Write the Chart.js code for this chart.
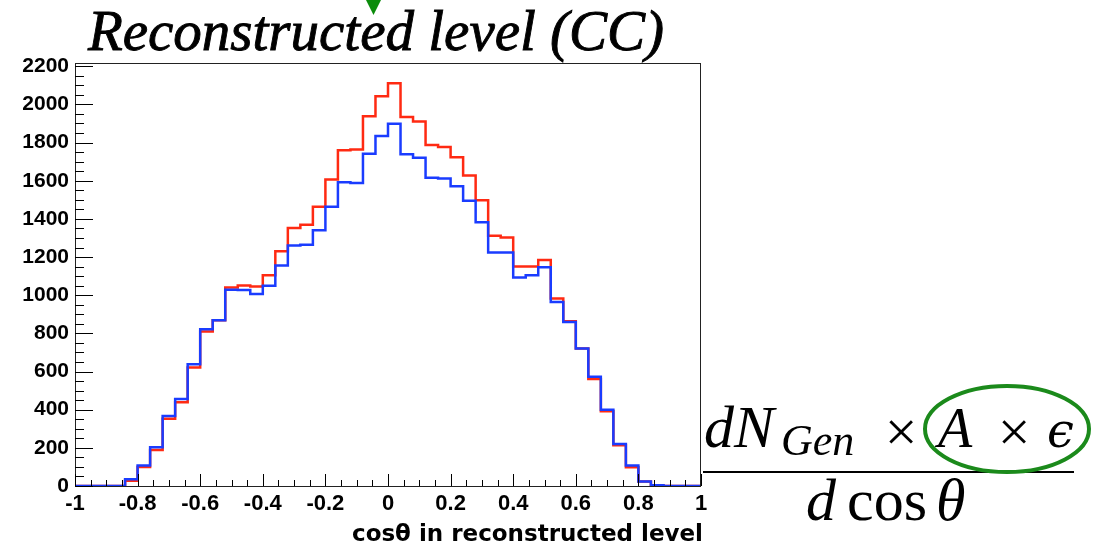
<!DOCTYPE html>
<html>
  <head>
    <title>cos theta, reconstructed level</title>
    <script src="https://cdn.jsdelivr.net/npm/chart.js@4.4.0/dist/chart.umd.min.js"></script>
    <style>
    body{
    	margin: 0;
    	background-color: white;
    }
  	</style>
  </head>
  <body>

    <canvas id="costheta" width="1093" height="544"></canvas>

  <script type="text/javascript">

  // 50 bins in cos(theta) from -1 to 1
  var binLo = -1;
  var binWidth = 0.04;

  var histRed = [0, 0, 0, 0, 28, 100, 189, 352, 439, 621,
                 810, 869, 1041, 1051, 1046, 1104, 1230, 1352, 1369, 1464,
                 1607, 1760, 1763, 1938, 2043, 2111, 1934, 1910, 1787, 1777,
                 1723, 1628, 1497, 1312, 1303, 1151, 1151, 1184, 983, 864,
                 721, 561, 392, 213, 98, 23, 4, 0, 0, 0];

  var histBlue = [0, 0, 0, 0, 35, 108, 203, 367, 456, 638,
                  822, 869, 1028, 1027, 1006, 1049, 1156, 1261, 1265, 1340,
                  1464, 1592, 1588, 1742, 1835, 1898, 1739, 1721, 1616, 1611,
                  1571, 1495, 1383, 1224, 1224, 1093, 1104, 1146, 964, 859,
                  721, 572, 399, 220, 107, 24, 4, 0, 0, 0];

  var xTicks = [-1, -0.8, -0.6, -0.4, -0.2, 0, 0.2, 0.4, 0.6, 0.8, 1];
  var yTicks = [0, 200, 400, 600, 800, 1000, 1200, 1400, 1600, 1800, 2000, 2200];

  var titleText = 'Reconstructed level (CC)';
  var xTitleText = 'cos\u03b8 in reconstructed level';

  // bin contents -> step points at the low edges, closed at the upper edge
  function toSteps(vals){
  	var pts = [];
  	for (var i = 0; i < vals.length; i++) {
  		pts.push({x: binLo + i * binWidth, y: vals[i]});
  	}
  	pts.push({x: binLo + vals.length * binWidth, y: vals[vals.length - 1]});
  	return pts;
  }

  var sansBold = '"Liberation Sans", Arial, sans-serif';

  // ROOT style frame: box plus inward ticks, major and minor
  var frameTicks = {
  	id: 'frameTicks',
  	afterDraw: function(chart){
  		var ctx = chart.ctx;
  		var a = chart.chartArea;
  		var xs = chart.scales.x, ys = chart.scales.y;
  		var v, p;
  		ctx.save();
  		ctx.strokeStyle = '#222';
  		ctx.lineWidth = 1;
  		ctx.strokeRect(a.left + 0.5, a.top + 0.5, a.right - a.left - 1, a.bottom - a.top);

  		ctx.strokeStyle = '#000';
  		ctx.beginPath();
  		for (v = 0; v <= 2200; v += 50) {
  			p = Math.round(ys.getPixelForValue(v)) + 0.5;
  			ctx.moveTo(a.left, p);
  			ctx.lineTo(a.left + (v % 200 === 0 ? 18 : 9), p);
  		}
  		for (var k = 0; k <= 40; k++) {
  			v = -1 + k * 0.05;
  			p = Math.round(xs.getPixelForValue(v)) + 0.5;
  			ctx.moveTo(p, a.bottom);
  			ctx.lineTo(p, a.bottom - (k % 4 === 0 ? 12 : 6));
  		}
  		ctx.stroke();
  		ctx.restore();
  	}
  };

  // title, axis title and the formula next to the frame
  var annotations = {
  	id: 'annotations',
  	afterDraw: function(chart){
  		var ctx = chart.ctx;
  		ctx.save();

  		ctx.fillStyle = '#000';
  		ctx.strokeStyle = '#000';
  		ctx.textBaseline = 'alphabetic';
  		ctx.textAlign = 'center';
  		ctx.font = 'italic 57px "Liberation Serif", serif';
  		ctx.lineWidth = 0.9;
  		ctx.fillText(titleText, 376, 50);
  		ctx.strokeText(titleText, 376, 50);

  		ctx.fillStyle = '#0b8c0b';
  		ctx.beginPath();
  		ctx.moveTo(366, 0);
  		ctx.lineTo(381, 0);
  		ctx.lineTo(373.5, 15);
  		ctx.closePath();
  		ctx.fill();

  		ctx.fillStyle = '#000';
  		ctx.textAlign = 'right';
  		ctx.font = 'bold 23px "DejaVu Sans", sans-serif';
  		ctx.fillText(xTitleText, 703, 541);

  		// dN_Gen x A x eps / d cos theta
  		ctx.textAlign = 'left';
  		ctx.font = 'italic 60px "Liberation Serif", serif';
  		ctx.fillText('dN', 704, 447);
  		ctx.font = 'italic 44px "Liberation Serif", serif';
  		ctx.fillText('Gen', 781, 455);
  		ctx.font = '58px "Liberation Serif", serif';
  		ctx.textAlign = 'center';
  		ctx.fillText('\u00d7', 901, 451);
  		ctx.fillText('\u00d7', 1014, 451);
  		ctx.textAlign = 'left';
  		ctx.font = 'italic 56px "Liberation Serif", serif';
  		ctx.fillText('A', 938, 447);
  		ctx.font = 'italic 48px "DejaVu Serif", serif';
  		ctx.fillText('\u03f5', 1047, 447);

  		ctx.lineWidth = 2;
  		ctx.beginPath();
  		ctx.moveTo(703, 472);
  		ctx.lineTo(1074, 472);
  		ctx.stroke();

  		ctx.font = 'italic 60px "Liberation Serif", serif';
  		ctx.fillText('d', 806, 520);
  		ctx.font = '60px "Liberation Serif", serif';
  		ctx.fillText('cos', 847, 520);
  		ctx.font = 'italic 60px "Liberation Serif", serif';
  		ctx.fillText('\u03b8', 936, 520);

  		ctx.strokeStyle = '#1b8a1b';
  		ctx.lineWidth = 4;
  		ctx.beginPath();
  		ctx.ellipse(1007, 429, 82, 43, 0, 0, 2 * Math.PI);
  		ctx.stroke();

  		ctx.restore();
  	}
  };

  var ctx = document.getElementById('costheta').getContext('2d');

  new Chart(ctx, {
  	type: 'line',
  	data: {
  		datasets: [{
  			label: 'blue',
  			data: toSteps(histBlue),
  			borderColor: '#1a3cff',
  			borderWidth: 2.5,
  			stepped: 'before',
  			pointRadius: 0,
  			fill: false
  		}, {
  			label: 'red',
  			data: toSteps(histRed),
  			borderColor: '#ff2a12',
  			borderWidth: 2.5,
  			stepped: 'before',
  			pointRadius: 0,
  			fill: false
  		}]
  	},
  	options: {
  		responsive: false,
  		animation: false,
  		devicePixelRatio: 1,
  		layout: {padding: {top: 63, right: 392, left: 0, bottom: 0}},
  		plugins: {legend: {display: false}, tooltip: {enabled: false}, title: {display: false}},
  		scales: {
  			x: {
  				type: 'linear',
  				min: -1,
  				max: 1,
  				grid: {display: false, drawTicks: false},
  				border: {display: false},
  				afterBuildTicks: function(scale){
  					scale.ticks = xTicks.map(function(v){ return {value: v}; });
  				},
  				afterFit: function(scale){ scale.height = 58; },
  				ticks: {
  					color: '#000',
  					font: {family: sansBold, size: 22, weight: 'bold'},
  					padding: 5,
  					maxRotation: 0,
  					autoSkip: false,
  					callback: function(v){ return String(Math.round(v * 10) / 10); }
  				}
  			},
  			y: {
  				min: 0,
  				max: 2217,
  				grid: {display: false, drawTicks: false},
  				border: {display: false},
  				afterBuildTicks: function(scale){
  					scale.ticks = yTicks.map(function(v){ return {value: v}; });
  				},
  				afterFit: function(scale){ scale.width = 75; },
  				ticks: {
  					color: '#000',
  					font: {family: sansBold, size: 21, weight: 'bold'},
  					padding: 6,
  					autoSkip: false,
  					callback: function(v){ return String(v); }
  				}
  			}
  		}
  	},
  	plugins: [frameTicks, annotations]
  });

  	</script>
  	</body>
</html>
